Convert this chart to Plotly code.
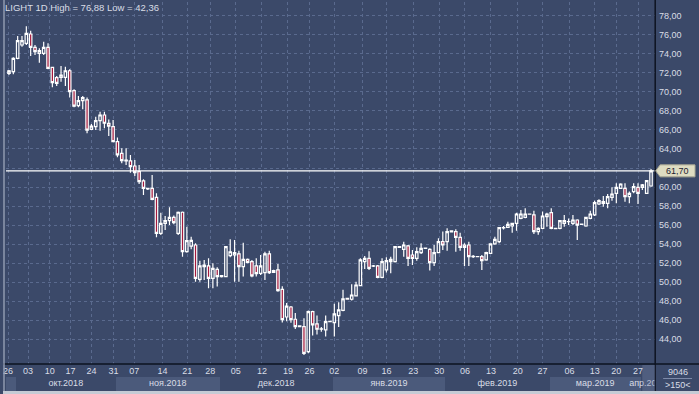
import plotly.graph_objects as go

# ---------------- data ----------------
open_ = [71.95, 72.12, 73.52, 74.92, 75.10, 76.08, 74.68, 74.05, 74.05, 74.68,
         72.57, 71.50, 71.53, 71.53, 72.22, 70.12, 68.55, 69.07, 69.15, 66.06,
         66.34, 66.97, 67.57, 66.69, 66.34, 64.77, 63.54, 62.74, 62.74, 62.21,
         61.62, 60.64, 59.85, 59.87, 58.92, 55.14, 56.19, 56.47, 56.82, 55.14,
         57.35, 53.21, 53.80, 53.91, 50.31, 51.64, 51.71, 50.41, 51.36, 50.69,
         50.59, 52.80, 52.86, 52.97, 51.64, 52.41, 52.16, 51.71, 50.94, 51.01,
         52.97, 51.22, 51.29, 49.26, 46.35, 47.40, 46.11, 45.41, 45.34, 42.71,
         46.91, 45.62, 45.06, 45.00, 45.86, 45.76, 46.50, 47.05, 48.30, 48.21,
         48.56, 49.65, 52.16, 52.51, 51.70, 51.71, 50.52, 51.29, 52.16, 52.16,
         53.67, 53.46, 53.81, 52.86, 52.51, 53.11, 53.56, 53.46, 52.06, 53.11,
         54.26, 54.26, 55.30, 55.32, 54.72, 53.91, 53.91, 52.69, 52.69, 52.69,
         52.34, 53.04, 54.02, 54.26, 55.72, 55.77, 55.91, 56.19, 56.71, 56.82,
         57.17, 57.07, 55.32, 55.66, 56.89, 57.31, 55.66, 55.66, 56.19, 56.36,
         56.19, 56.54, 56.10, 55.91, 56.71, 57.07, 58.22, 58.29, 58.29, 58.92,
         59.34, 59.87, 59.87, 58.99, 59.52, 59.97, 59.97, 59.34, 60.11]
high = [72.30, 73.63, 75.87, 75.87, 76.88, 76.43, 74.92, 74.57, 75.27, 75.10,
        72.65, 71.67, 72.72, 72.65, 72.37, 70.27, 69.56, 69.56, 69.42, 66.62,
        67.39, 67.92, 67.92, 67.10, 67.04, 65.20, 64.07, 64.07, 63.37, 62.84,
        62.32, 60.81, 59.87, 61.27, 59.34, 57.31, 56.96, 57.87, 57.00, 57.42,
        57.42, 55.84, 54.79, 54.10, 52.27, 52.34, 52.51, 51.99, 51.57, 50.76,
        53.81, 54.51, 54.44, 53.32, 54.16, 52.50, 52.34, 52.51, 52.86, 53.21,
        53.32, 51.30, 51.92, 49.58, 47.82, 47.51, 46.78, 45.45, 46.21, 47.02,
        47.00, 46.50, 45.30, 46.50, 45.95, 47.75, 47.90, 49.20, 48.35, 49.80,
        50.06, 52.51, 52.76, 53.25, 51.80, 51.80, 52.51, 52.62, 52.69, 53.81,
        53.78, 54.26, 53.90, 53.39, 53.67, 54.09, 53.62, 53.56, 53.91, 54.61,
        55.32, 55.66, 55.45, 55.56, 55.21, 54.10, 54.26, 52.85, 52.72, 52.85,
        53.20, 54.09, 54.79, 55.77, 55.90, 56.36, 56.26, 57.31, 57.59, 57.77,
        57.20, 57.52, 55.77, 57.42, 57.31, 57.77, 55.70, 56.54, 57.07, 56.70,
        57.07, 56.61, 56.15, 56.89, 57.52, 58.57, 58.71, 59.06, 59.27, 59.97,
        60.39, 60.39, 60.39, 59.52, 60.39, 60.39, 60.32, 60.74, 61.90]
low = [71.77, 71.84, 73.42, 74.75, 74.92, 73.77, 73.87, 73.07, 73.87, 72.37,
       70.48, 70.62, 71.07, 70.62, 69.42, 68.37, 68.37, 68.17, 65.64, 65.99,
       65.99, 65.92, 66.17, 65.36, 64.70, 63.12, 62.50, 62.32, 61.51, 61.16,
       60.32, 59.17, 59.70, 58.60, 54.72, 54.96, 55.49, 56.02, 56.10, 54.96,
       52.69, 53.11, 53.46, 50.06, 50.06, 50.24, 49.36, 49.36, 49.54, 50.50,
       50.55, 52.62, 50.06, 50.06, 50.59, 52.00, 50.52, 50.59, 50.76, 50.24,
       50.87, 51.00, 49.01, 45.76, 45.90, 45.75, 45.10, 45.30, 42.36, 42.53,
       44.40, 44.50, 44.80, 44.30, 45.80, 44.30, 45.30, 46.95, 48.15, 48.07,
       48.49, 49.60, 51.40, 51.29, 51.60, 50.41, 50.41, 51.01, 50.94, 52.06,
       53.60, 52.69, 51.71, 51.81, 52.27, 52.97, 53.50, 51.22, 51.71, 53.04,
       53.39, 53.32, 55.25, 53.21, 53.32, 51.71, 51.71, 52.55, 52.65, 51.29,
       52.27, 52.97, 53.95, 54.09, 55.55, 55.70, 55.21, 55.42, 56.61, 56.71,
       57.10, 55.07, 55.00, 55.56, 55.84, 55.56, 55.60, 55.56, 55.84, 56.00,
       56.01, 54.44, 56.00, 55.84, 56.61, 56.96, 58.12, 57.94, 57.77, 58.57,
       58.29, 59.80, 58.46, 58.29, 59.34, 58.22, 59.69, 59.27, 60.04]
close = [72.20, 73.52, 75.38, 75.38, 76.15, 74.68, 74.22, 74.33, 74.68, 72.47,
         70.97, 70.90, 71.77, 72.22, 70.02, 68.51, 69.07, 69.39, 65.99, 66.41,
         66.97, 67.57, 66.70, 66.41, 64.77, 63.37, 62.77, 62.84, 62.14, 61.51,
         60.57, 59.87, 59.80, 58.71, 55.14, 56.19, 56.47, 56.82, 56.26, 57.35,
         53.21, 54.37, 54.40, 50.41, 51.71, 51.81, 50.41, 51.46, 50.59, 50.59,
         53.74, 53.20, 53.11, 51.64, 52.41, 52.09, 50.66, 50.90, 51.71, 52.97,
         51.01, 51.04, 49.12, 46.07, 47.48, 46.07, 45.34, 45.34, 42.53, 46.91,
         45.51, 45.06, 45.10, 45.86, 45.88, 46.67, 47.09, 48.25, 48.22, 48.66,
         49.71, 52.34, 52.51, 51.46, 51.72, 50.52, 52.16, 52.27, 52.41, 53.74,
         53.74, 53.91, 52.51, 52.51, 53.21, 53.56, 53.58, 52.06, 53.11, 54.26,
         53.91, 55.32, 55.40, 54.72, 53.67, 53.67, 52.69, 52.71, 52.68, 52.27,
         53.11, 54.02, 54.51, 55.73, 55.74, 56.08, 56.19, 57.17, 57.17, 57.17,
         57.15, 55.32, 55.66, 56.96, 57.17, 55.66, 55.64, 56.47, 56.47, 56.38,
         56.54, 56.01, 56.08, 56.82, 57.17, 58.36, 58.57, 58.46, 58.99, 59.27,
         59.97, 60.32, 58.99, 59.34, 60.04, 59.34, 60.22, 60.67, 61.70]
bar_index = list(range(len(close)))

week_labels = ["26", "03", "10", "17", "24", "31", "07", "14", "21", "28", "05", "12", "19", "26",
               "02", "09", "16", "23", "30", "06", "13", "20", "27", "06", "13", "20", "27"]
week_bar = [-0.2, 4.4, 9.4, 14.2, 19.0, 24.1, 28.9, 35.4, 41.1, 46.4, 52.3, 58.3, 64.3, 69.3,
            75.0, 81.5, 87.0, 93.2, 99.2, 105.1, 111.1, 117.3, 123.0, 129.2, 135.0, 140.0, 145.0]

month_labels = ["", "окт.2018", "ноя.2018", "дек.2018", "янв.2019", "фев.2019", "мар.2019", "апр.2019"]
month_first_bar = [0, 2, 25, 49, 75, 101, 125, 146]

y_ticks = list(range(44, 80, 2))

title_text = "LIGHT 1D High = {:.2f} Low = {:.2f}".format(max(high), min(low)).replace(".", ",")
volume_text = "9046"
bars_text = ">150<"

# ---------------- layout geometry ----------------
W, H = 699, 394
BG = "#3b4969"
BAND = "#4b5a7b"
GRID = "#5a6a8e"
TXT = "#d9dde6"
FONT = "Liberation Sans"

def px(x):
    return x / W

def py(y):
    return 1 - y / H

x_min, x_max = -0.69, 148.96
y_min, y_max = 41.41, 79.44

last = close[-1]
fmt = lambda v: f"{v:.2f}".replace(".", ",")

fig = go.Figure()

fig.add_trace(go.Candlestick(
    x=bar_index, open=open_, high=high, low=low, close=close,
    increasing=dict(line=dict(color="#ffffff", width=1.2), fillcolor="rgba(0,0,0,0)"),
    decreasing=dict(line=dict(color="#ffffff", width=1.2), fillcolor="#a3183c"),
    whiskerwidth=0, hoverinfo="skip", showlegend=False, xaxis="x", yaxis="y"))

# month bands (bottom strip)
starts = [s - 0.4 for s in month_first_bar]
ends = starts[1:] + [x_max]
starts[0] = x_min
centers = [(a + b) / 2 for a, b in zip(starts, ends)]
widths = [b - a for a, b in zip(starts, ends)]
band_colors = [BAND if k % 2 == 0 else BG for k in range(len(starts))]
fig.add_trace(go.Bar(x=centers, y=[1] * len(centers), width=widths, base=0,
                     marker=dict(color=band_colors, line=dict(width=0)),
                     hoverinfo="skip", showlegend=False, xaxis="x2", yaxis="y2"))
fig.add_trace(go.Scatter(x=centers, y=[0.5] * len(centers), mode="text", text=month_labels,
                         textfont=dict(family=FONT, size=9, color=TXT), cliponaxis=True,
                         hoverinfo="skip", showlegend=False, xaxis="x2", yaxis="y2"))

fig.update_layout(
    width=W, height=H, margin=dict(l=0, r=0, t=0, b=0),
    paper_bgcolor=BG, plot_bgcolor=BG,
    font=dict(family=FONT, size=9, color=TXT),
    showlegend=False, bargap=0, boxgap=0.2,
    xaxis=dict(domain=[px(3), px(655)], range=[x_min, x_max], anchor="y",
               rangeslider=dict(visible=False),
               tickmode="array", tickvals=week_bar, ticktext=week_labels,
               showgrid=True, gridcolor=GRID, griddash="3px,3px", gridwidth=1,
               zeroline=False, showline=False, ticks="",
               tickfont=dict(family=FONT, size=9, color=TXT)),
    yaxis=dict(domain=[py(364), py(2)], range=[y_min, y_max], anchor="x", side="right",
               tickmode="array", tickvals=y_ticks, showticklabels=False,
               showgrid=True, gridcolor=GRID, griddash="3px,3px", gridwidth=1,
               zeroline=False, showline=False, ticks=""),
    xaxis2=dict(domain=[px(3), px(655)], range=[x_min, x_max], anchor="y2",
                visible=False, showgrid=False),
    yaxis2=dict(domain=[py(391), py(377)], range=[0, 1], anchor="x2",
                visible=False, showgrid=False),
)

shapes = []
# last price line
shapes.append(dict(type="line", xref="x domain", yref="y", x0=0, x1=1, y0=last, y1=last,
                   line=dict(color="#ffffff", width=1.2), layer="above"))
# frame lines
shapes.append(dict(type="line", xref="paper", yref="paper", x0=0, x1=1, y0=py(364), y1=py(364),
                   line=dict(color="#0d1320", width=1.5), layer="above"))
shapes.append(dict(type="line", xref="paper", yref="paper", x0=px(655), x1=px(655), y0=py(0), y1=py(391),
                   line=dict(color="#0d1320", width=1.5), layer="above"))
shapes.append(dict(type="line", xref="paper", yref="paper", x0=px(1), x1=px(1), y0=py(0), y1=py(391),
                   line=dict(color="#8f9ab0", width=1.5), layer="above"))
shapes.append(dict(type="rect", xref="paper", yref="paper", x0=0, x1=1, y0=0, y1=py(391),
                   fillcolor="#c5cbd5", line=dict(width=0), layer="above"))
# overlay at the right end of the date strip
shapes.append(dict(type="rect", xref="paper", yref="paper", x0=px(642), x1=px(655), y0=py(391), y1=py(365),
                   fillcolor="rgba(120,135,170,0.35)", line=dict(width=0), layer="above"))
# separator line in the bottom-right box
shapes.append(dict(type="line", xref="paper", yref="paper", x0=px(663), x1=px(692), y0=py(378.5), y1=py(378.5),
                   line=dict(color="#7d8aa8", width=1), layer="above"))
# last-price label box with arrow
hh = 6.0 / 9.52
path = (f"M {px(655.5)},{last} L {px(660)},{last + hh} L {px(695)},{last + hh} "
        f"L {px(695)},{last - hh} L {px(660)},{last - hh} Z")
shapes.append(dict(type="path", xref="paper", yref="y", path=path,
                   fillcolor="#dedcc2", line=dict(color="#a9a894", width=1), layer="above"))
fig.update_layout(shapes=shapes)

annotations = [
    dict(x=0, y=py(8), xref="paper", yref="paper", text=title_text, showarrow=False,
         xanchor="left", yanchor="middle", font=dict(family=FONT, size=9.5, color=TXT)),
    dict(x=px(677), y=last, xref="paper", yref="y", text=fmt(last),
         showarrow=False, xanchor="center", yanchor="middle",
         font=dict(family=FONT, size=9, color="#1c2030")),
    dict(x=px(678), y=py(372), xref="paper", yref="paper", text=volume_text, showarrow=False,
         xanchor="center", yanchor="middle", font=dict(family=FONT, size=9, color=TXT)),
    dict(x=px(678), y=py(384.5), xref="paper", yref="paper", text=bars_text, showarrow=False,
         xanchor="center", yanchor="middle", font=dict(family=FONT, size=9, color=TXT)),
]
# price-scale labels on the right (the last-price marker hides the one it overlaps)
for v in y_ticks:
    if abs(v - last) < 1.0:
        continue
    annotations.append(dict(x=px(657), y=v, xref="paper", yref="y", text=fmt(v), showarrow=False,
                            xanchor="left", yanchor="middle",
                            font=dict(family=FONT, size=9, color=TXT)))
fig.update_layout(annotations=annotations)

fig.write_html("out.html", config={"displayModeBar": False},
               post_script="document.body.style.margin='0';document.body.style.overflow='hidden';")
